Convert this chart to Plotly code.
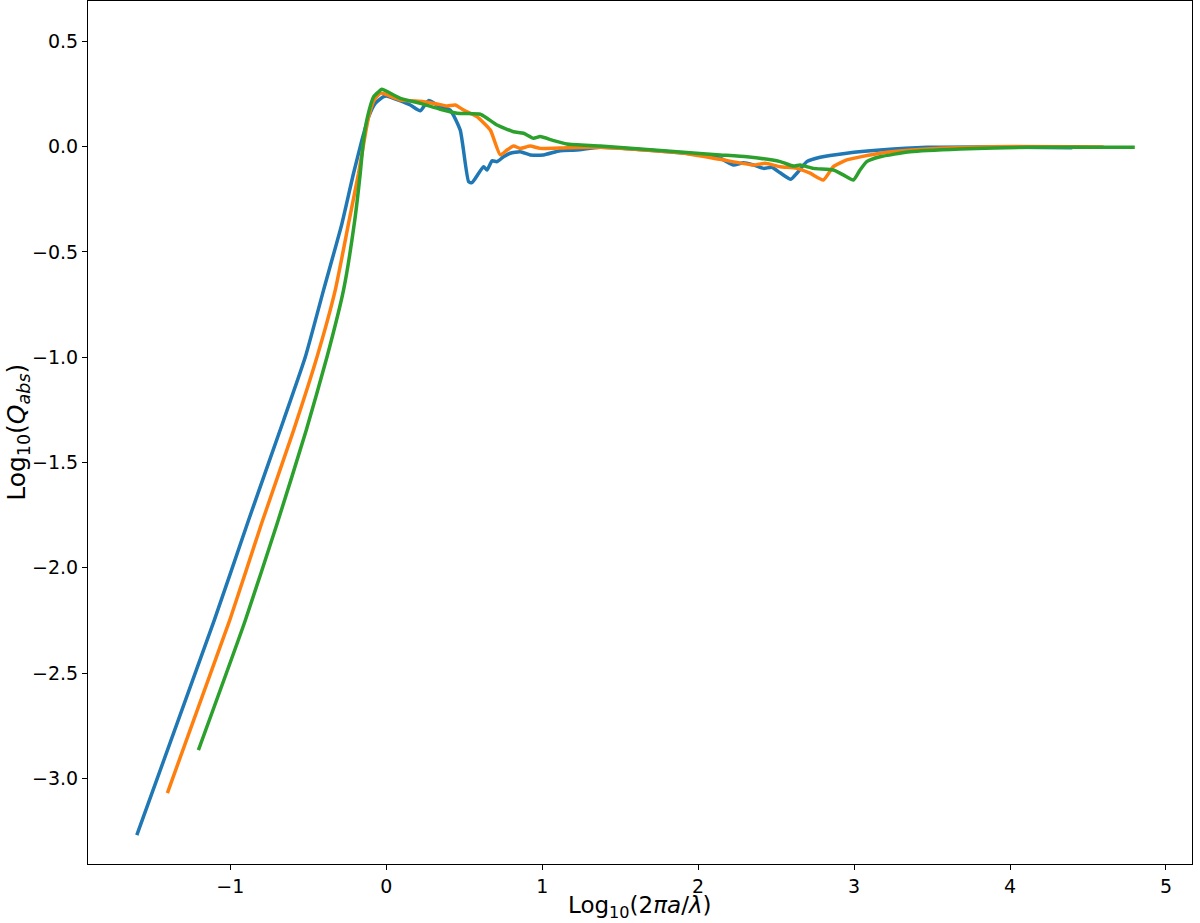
import plotly.graph_objects as go

# log10(2*pi*a/lambda) and log10(Qabs), one pair of lists per curve
x_blue = [-1.60, -1.103, -0.883, -0.658, -0.519, -0.402, -0.284, -0.210, -0.156, -0.113,
          -0.071, -0.017, 0.006, 0.154, 0.218, 0.271, 0.346, 0.410, 0.474, 0.528, 0.549,
          0.624, 0.646, 0.678, 0.710, 0.752, 0.795, 0.859, 0.923, 1.008, 1.115, 1.222,
          1.372, 1.885, 2.141, 2.226, 2.290, 2.355, 2.419, 2.472, 2.526, 2.594, 2.633,
          2.697, 2.782, 2.953, 3.167, 3.466, 3.9, 4.4]
y_blue = [-3.27, -2.249, -1.773, -1.298, -0.998, -0.680, -0.364, -0.126, 0.032, 0.143,
          0.206, 0.238, 0.240, 0.198, 0.171, 0.219, 0.190, 0.174, 0.079, -0.166, -0.171,
          -0.095, -0.111, -0.067, -0.071, -0.048, -0.031, -0.024, -0.039, -0.039, -0.019, -0.016,
          -0.003, -0.029, -0.055, -0.087, -0.076, -0.087, -0.103, -0.098, -0.124, -0.155, -0.126,
          -0.071, -0.050, -0.031, -0.016, -0.003, -0.001, -0.005]

x_orange = [-1.404, -1.004, -0.800, -0.594, -0.444, -0.327, -0.242, -0.178, -0.141, -0.113,
            -0.077, -0.038, -0.017, 0.090, 0.239, 0.325, 0.389, 0.442, 0.496, 0.581, 0.667,
            0.731, 0.774, 0.816, 0.859, 0.923, 0.987, 1.158, 1.372, 1.885, 2.141, 2.355,
            2.429, 2.526, 2.633, 2.718, 2.803, 2.867, 2.953, 3.167, 3.466, 3.891, 4.6]
y_orange = [-3.07, -2.249, -1.790, -1.346, -0.998, -0.680, -0.364, -0.126, 0.032, 0.143,
            0.222, 0.254, 0.252, 0.222, 0.214, 0.203, 0.193, 0.198, 0.174, 0.143, 0.079,
            -0.039, -0.016, 0.003, -0.008, 0.003, -0.008, -0.005, -0.003, -0.029, -0.060, -0.087,
            -0.079, -0.095, -0.103, -0.126, -0.158, -0.095, -0.063, -0.031, -0.011, 0.0, -0.001]

x_green = [-1.205, -0.904, -0.700, -0.513, -0.380, -0.274, -0.205, -0.167, -0.146, -0.120,
           -0.081, -0.049, -0.030, 0.090, 0.218, 0.346, 0.453, 0.603, 0.646, 0.710, 0.816,
           0.880, 0.944, 0.987, 1.072, 1.158, 1.372, 1.885, 2.141, 2.312, 2.526, 2.611,
           2.654, 2.739, 2.867, 2.931, 2.996, 3.038, 3.081, 3.167, 3.359, 3.679, 4.107, 4.8]
y_green = [-2.866, -2.249, -1.790, -1.346, -0.998, -0.680, -0.364, -0.126, 0.032, 0.143,
           0.238, 0.261, 0.273, 0.230, 0.206, 0.178, 0.159, 0.154, 0.135, 0.103, 0.071,
           0.064, 0.040, 0.048, 0.029, 0.013, 0.003, -0.025, -0.039, -0.048, -0.071, -0.092,
           -0.087, -0.103, -0.111, -0.134, -0.158, -0.111, -0.071, -0.048, -0.024, -0.011, -0.003, -0.003]

x_ticks = [-1, 0, 1, 2, 3, 4, 5]
y_ticks = [0.5, 0.0, -0.5, -1.0, -1.5, -2.0, -2.5, -3.0]

x_label = 'Log<sub>10</sub>(2<i>πa</i>/<i>λ</i>)'
y_label = 'Log<sub>10</sub>(<i>Q<sub>abs</sub></i>)'

colors = ['#1f77b4', '#ff7f0e', '#2ca02c']

fig = go.Figure()
for xs, ys, c in [(x_blue, y_blue, colors[0]),
                  (x_orange, y_orange, colors[1]),
                  (x_green, y_green, colors[2])]:
    fig.add_trace(go.Scatter(x=xs, y=ys, mode='lines',
                             line=dict(color=c, width=3.5, shape='spline', smoothing=0.5),
                             showlegend=False))

axis_style = dict(showgrid=False, zeroline=False, showline=True, linecolor='black',
                  linewidth=1, mirror=True, ticks='outside', ticklen=5, tickwidth=1,
                  tickcolor='black', tickfont=dict(size=19, color='black'),
                  automargin=False)

fig.update_xaxes(range=[-1.913, 5.167], tickvals=x_ticks, **axis_style)
fig.update_yaxes(range=[-3.407, 0.692], tickvals=y_ticks, tickformat='.1f', **axis_style)

# axis titles as annotations so they sit where the reference has them
fig.add_annotation(text=x_label, xref='paper', yref='paper', x=0.5, y=-0.050,
                   xanchor='center', yanchor='middle', showarrow=False,
                   font=dict(size=23, color='black'))
fig.add_annotation(text=y_label, xref='paper', yref='paper', x=-0.064, y=0.5,
                   xanchor='center', yanchor='middle', showarrow=False, textangle=-90,
                   font=dict(size=25, color='black'))

fig.update_layout(
    width=1200, height=923,
    margin=dict(l=88, r=8, t=1, b=59),
    plot_bgcolor='white', paper_bgcolor='white',
    font=dict(family='DejaVu Sans', color='black'),
)

# drop the page's default body margin so the figure fills the window
fig.write_html("out.html", config={'displayModeBar': False},
               post_script="document.body.style.margin = '0';")
